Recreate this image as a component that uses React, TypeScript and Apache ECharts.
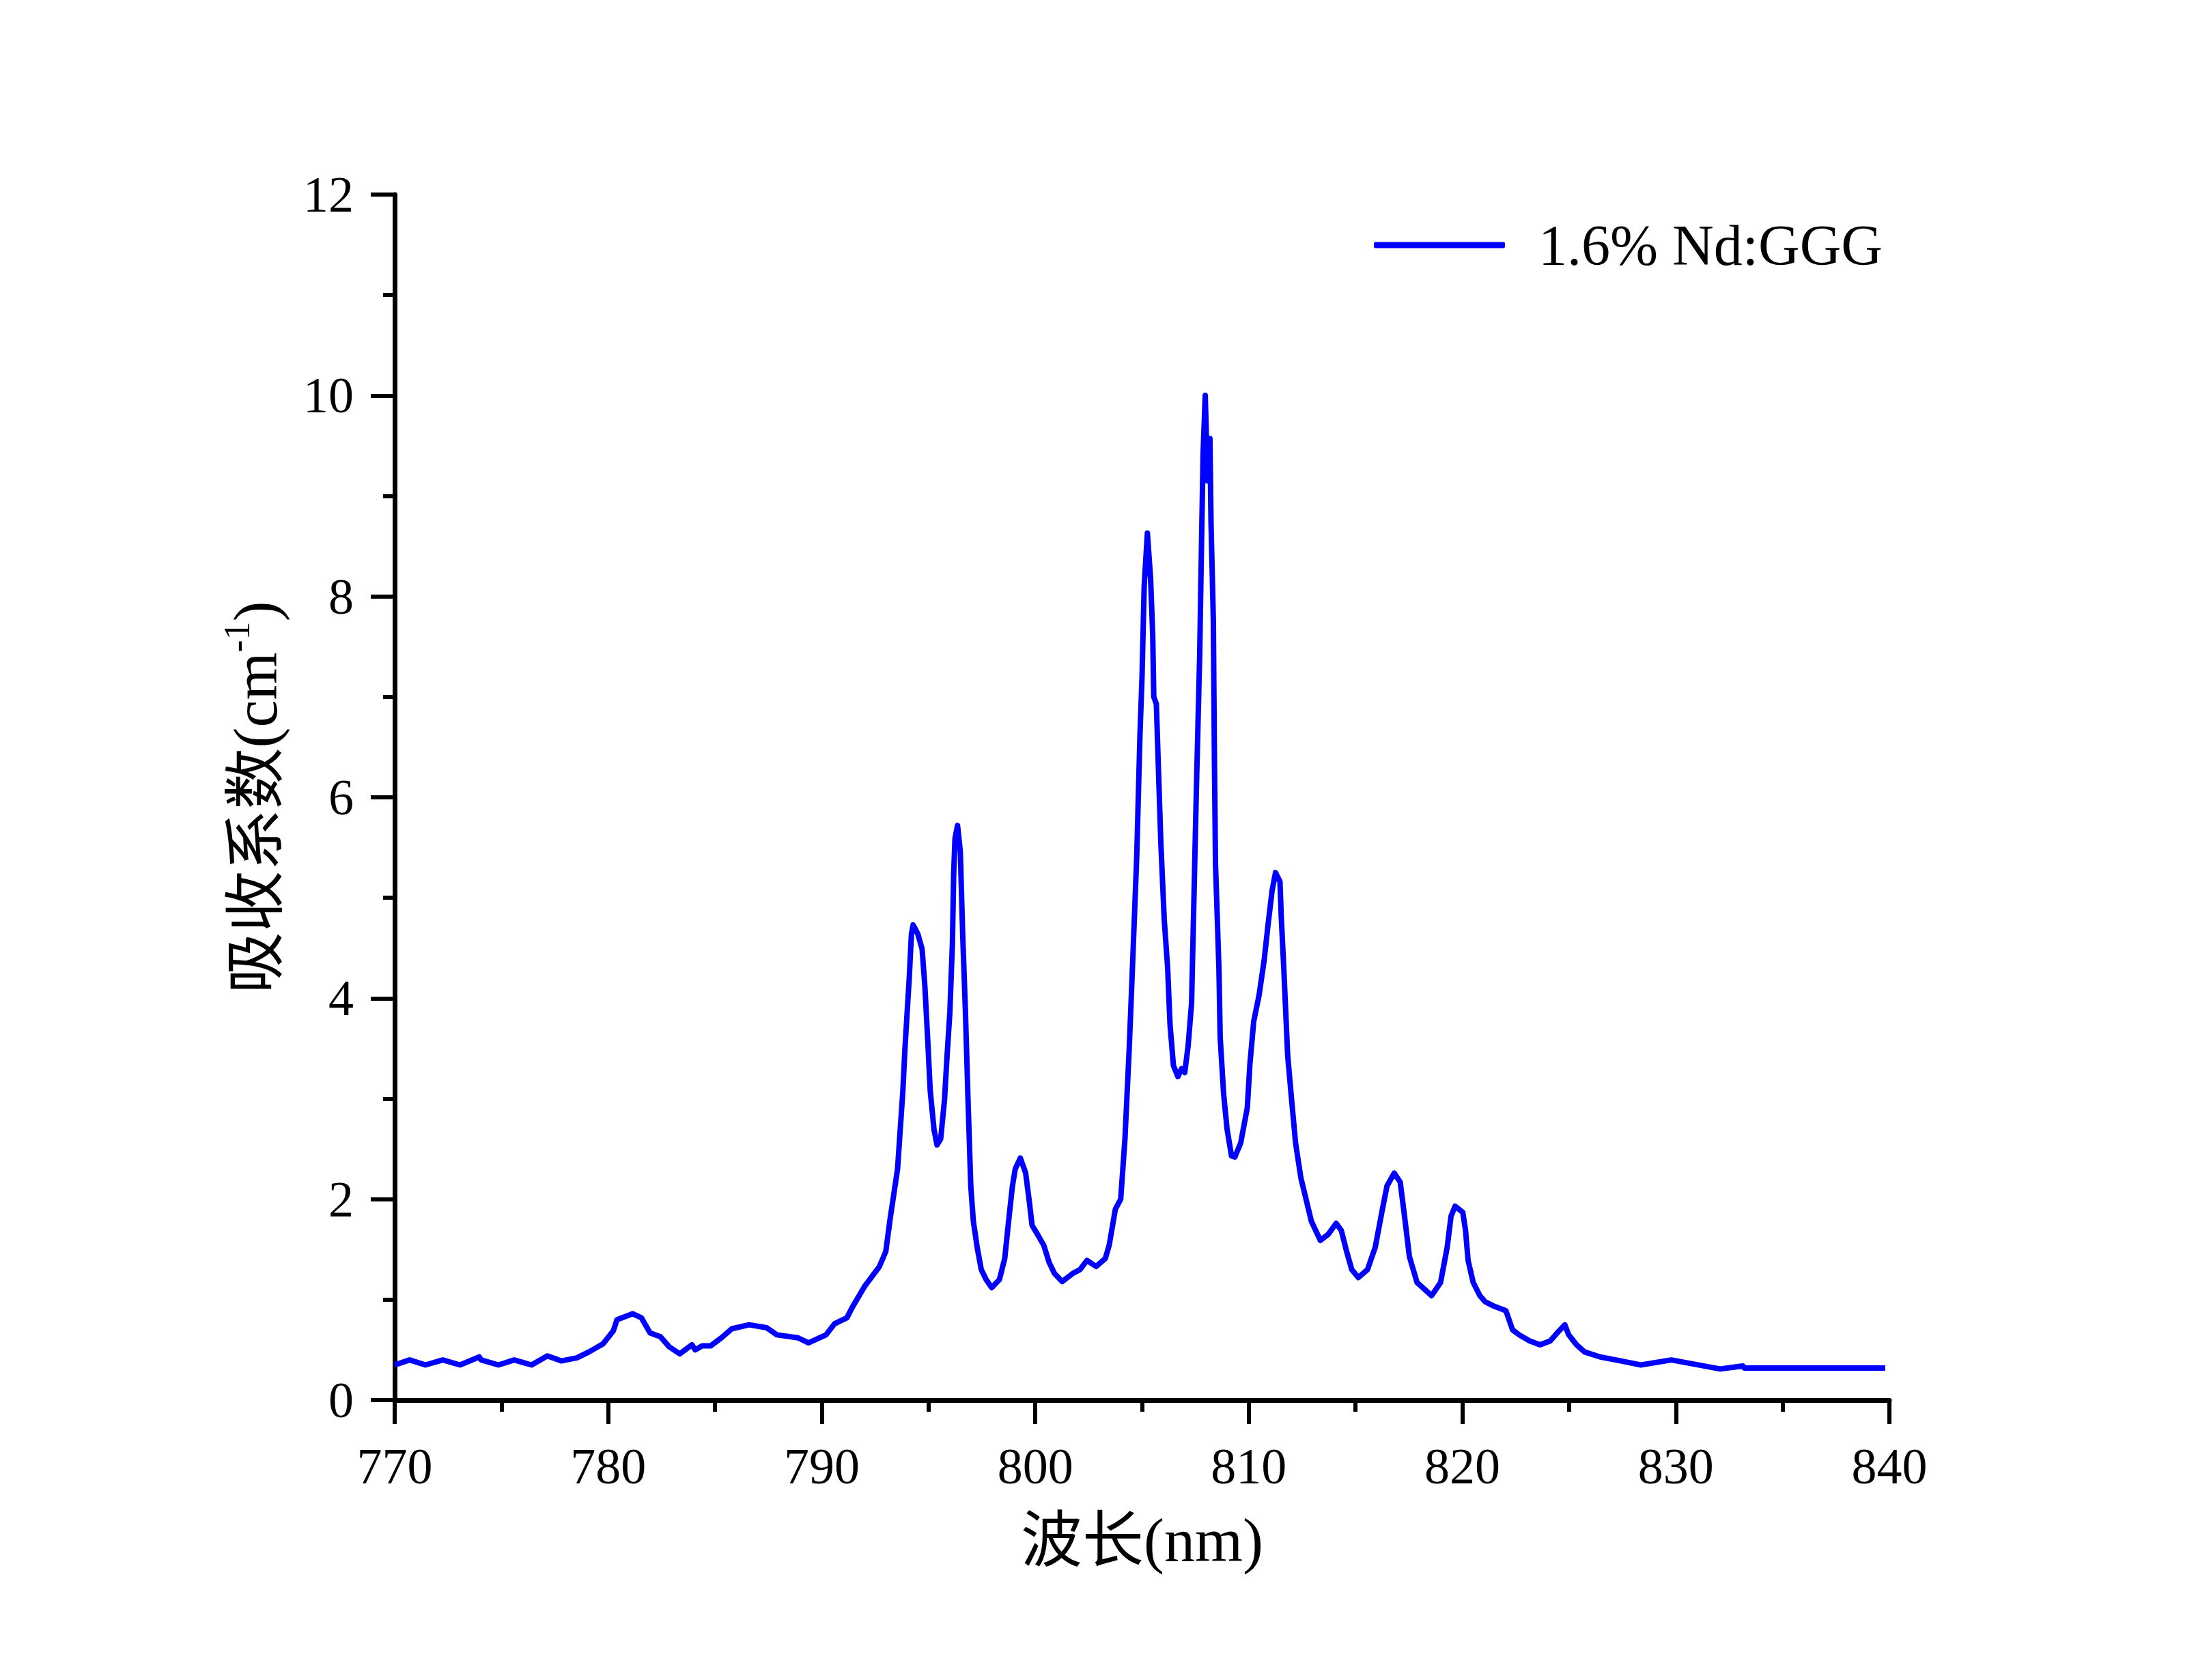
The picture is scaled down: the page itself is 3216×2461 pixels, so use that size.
import React, { useEffect, useRef } from "react";
import * as echarts from "echarts";

const seriesName = "1.6% Nd:GGG";
const xAxisTitle = "波长(nm)";
const yAxisTitleMain = "吸收系数(cm";
const yAxisTitleSup = "-1";

const xRange = [770, 840];
const xStep = 10;
const yRange = [0, 12];
const yStep = 2;

const wavelengths = [
  770.0, 770.7, 771.44, 772.25, 773.06, 773.96, 774.05, 774.86, 775.6, 776.41,
  777.15, 777.8, 778.53, 779.1, 779.76, 780.24, 780.41, 781.14, 781.55, 781.96,
  782.45, 782.86, 783.35, 783.92, 784.08, 784.4, 784.8, 785.3, 785.79, 786.6,
  787.42, 787.9, 788.89, 789.38, 790.2, 790.6, 791.18, 791.42, 792.0, 792.7,
  793.0, 793.2, 793.55, 793.8, 793.9, 794.1, 794.2, 794.28, 794.5, 794.7,
  794.83, 794.96, 795.08, 795.26, 795.4, 795.57, 795.75, 795.87, 796.0, 796.12,
  796.18, 796.24, 796.36, 796.49, 796.6, 796.73, 796.85, 796.98, 797.1, 797.28,
  797.47, 797.7, 797.96, 798.32, 798.57, 798.75, 798.93, 799.06, 799.3, 799.55,
  799.73, 799.85, 800.16, 800.4, 800.65, 800.9, 801.26, 801.75, 802.1, 802.42,
  802.85, 803.28, 803.46, 803.75, 804.0, 804.2, 804.4, 804.55, 804.75, 804.9,
  805.0, 805.1, 805.25, 805.4, 805.5, 805.55, 805.67, 805.78, 805.88, 806.04,
  806.2, 806.31, 806.47, 806.68, 806.85, 807.0, 807.16, 807.32, 807.43, 807.54,
  807.7, 807.78, 807.86, 807.96, 808.07, 808.18, 808.23, 808.34, 808.39, 808.44,
  808.6, 808.66, 808.82, 808.98, 809.19, 809.35, 809.62, 809.93, 810.05, 810.23,
  810.48, 810.72, 810.9, 811.09, 811.25, 811.46, 811.52, 811.64, 811.82, 812.0,
  812.19, 812.44, 812.68, 812.93, 813.35, 813.72, 814.09, 814.33, 814.58, 814.82,
  815.13, 815.56, 815.92, 816.23, 816.47, 816.81, 817.09, 817.27, 817.52, 817.88,
  818.56, 818.98, 819.29, 819.47, 819.66, 820.02, 820.15, 820.27, 820.51, 820.82,
  821.06, 821.43, 822.04, 822.35, 822.66, 823.15, 823.64, 824.12, 824.49, 824.8,
  824.98, 825.35, 825.72, 826.45, 827.43, 828.36, 829.79, 832.07, 833.14, 833.2,
  839.8,
];

const absorption = [
  0.35, 0.40, 0.35, 0.40, 0.35, 0.43, 0.40, 0.35, 0.40, 0.35,
  0.44, 0.39, 0.42, 0.48, 0.56, 0.69, 0.80, 0.86, 0.82, 0.67,
  0.63, 0.53, 0.46, 0.55, 0.50, 0.54, 0.54, 0.62, 0.71, 0.75,
  0.72, 0.65, 0.62, 0.57, 0.65, 0.76, 0.82, 0.92, 1.13, 1.33,
  1.48, 1.80, 2.30, 3.08, 3.51, 4.21, 4.64, 4.73, 4.64, 4.49,
  4.12, 3.60, 3.08, 2.69, 2.54, 2.60, 2.99, 3.43, 3.86, 4.55,
  5.25, 5.59, 5.72, 5.46, 4.64, 3.86, 2.99, 2.13, 1.78, 1.52,
  1.30, 1.20, 1.12, 1.20, 1.41, 1.78, 2.13, 2.30, 2.41, 2.26,
  1.96, 1.74, 1.63, 1.54, 1.37, 1.26, 1.18, 1.26, 1.30, 1.39,
  1.33, 1.41, 1.54, 1.90, 2.0, 2.6, 3.5, 4.3, 5.4, 6.6,
  7.2, 8.1, 8.63, 8.18, 7.62, 7.0, 6.93, 6.2, 5.55, 4.78,
  4.30, 3.74, 3.33, 3.22, 3.30, 3.26, 3.53, 3.95, 4.99, 6.03,
  7.42, 8.46, 9.43, 10.0, 9.15, 9.57, 8.74, 7.76, 6.38, 5.34,
  4.30, 3.61, 3.05, 2.70, 2.43, 2.42, 2.56, 2.91, 3.34, 3.77,
  4.03, 4.38, 4.73, 5.07, 5.25, 5.16, 4.81, 4.29, 3.43, 3.0,
  2.56, 2.21, 2.0, 1.78, 1.59, 1.65, 1.76, 1.69, 1.48, 1.30,
  1.22, 1.30, 1.52, 1.87, 2.13, 2.26, 2.17, 1.87, 1.43, 1.17,
  1.04, 1.17, 1.52, 1.83, 1.93, 1.87, 1.69, 1.39, 1.17, 1.04,
  0.98, 0.94, 0.89, 0.70, 0.65, 0.59, 0.55, 0.59, 0.68, 0.75,
  0.65, 0.55, 0.48, 0.43, 0.39, 0.35, 0.40, 0.31, 0.34, 0.32,
  0.32,
];

const LATIN = "'Liberation Serif', 'Noto Sans CJK SC', serif";
const CJK = "'Liberation Serif', 'Noto Sans CJK SC', serif";

export default function App() {
  const ref = useRef<HTMLDivElement>(null);

  useEffect(() => {
    if (!ref.current) return;
    const chart = echarts.init(ref.current, undefined, { renderer: "svg" });
    const data = wavelengths.map((w, i) => [w, absorption[i]]);

    const axisCommon = {
      axisLine: { show: true, lineStyle: { color: "#000", width: 7 } },
      axisTick: { show: true, inside: false, length: 35, lineStyle: { color: "#000", width: 6 } },
      minorTick: { show: true, splitNumber: 2, length: 17, lineStyle: { color: "#000", width: 6 } },
      splitLine: { show: false },
      minorSplitLine: { show: false },
    };

    chart.setOption({
      animation: false,
      backgroundColor: "#fff",
      grid: { left: 578, top: 285, right: 449, bottom: 410, containLabel: false },
      legend: {
        show: true,
        left: 2007,
        top: 312,
        itemWidth: 192,
        itemHeight: 9,
        icon: "roundRect",
        data: [{ name: seriesName, icon: "roundRect" }],
        textStyle: {
          fontFamily: LATIN,
          fontSize: 84,
          color: "#000",
          padding: [0, 0, 0, 44],
        },
      },
      xAxis: {
        type: "value",
        min: xRange[0],
        max: xRange[1],
        interval: xStep,
        ...axisCommon,
        axisLabel: {
          show: true,
          margin: 60,
          fontFamily: LATIN,
          fontSize: 74,
          color: "#000",
        },
        name: xAxisTitle,
        nameLocation: "middle",
        nameGap: 160,
        nameTextStyle: { fontFamily: CJK, fontSize: 90, color: "#000" },
      },
      yAxis: {
        type: "value",
        min: yRange[0],
        max: yRange[1],
        interval: yStep,
        ...axisCommon,
        axisLabel: {
          show: true,
          margin: 60,
          fontFamily: LATIN,
          fontSize: 74,
          color: "#000",
        },
        name: `{a|${yAxisTitleMain}}{s|${yAxisTitleSup}}{a|)}`,
        nameLocation: "middle",
        nameGap: 150,
        nameRotate: 90,
        nameTextStyle: {
          color: "#000",
          rich: {
            a: { fontFamily: CJK, fontSize: 90, color: "#000", lineHeight: 108 },
            s: { fontFamily: LATIN, fontSize: 54, color: "#000", verticalAlign: "top", lineHeight: 108, padding: [0, 0, 32, 0] },
          },
        },
      },
      series: [
        {
          name: seriesName,
          type: "line",
          data,
          showSymbol: false,
          symbol: "none",
          lineStyle: { color: "#0000ff", width: 8, join: "round" },
          itemStyle: { color: "#0000ff" },
        },
      ],
    });

    return () => chart.dispose();
  }, []);

  return (
    <div
      ref={ref}
      style={{ position: "fixed", left: 0, top: 0, width: 3216, height: 2461, background: "#fff" }}
    />
  );
}
